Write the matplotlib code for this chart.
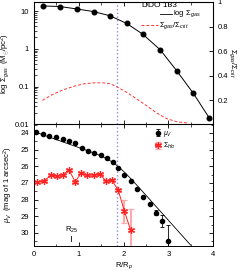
import numpy as np
import matplotlib
matplotlib.use("Agg")
import matplotlib.pyplot as plt
from matplotlib.ticker import MultipleLocator, LogLocator, NullFormatter

plt.rcParams['font.family'] = ['Liberation Sans', 'DejaVu Sans']
plt.rcParams['mathtext.fontset'] = 'custom'
plt.rcParams['mathtext.rm'] = 'Liberation Sans'
plt.rcParams['mathtext.it'] = 'Liberation Sans:italic'

# ==============================================
# = Data                =
# ==============================================
gas_r = [0.19, 0.58, 0.95, 1.33, 1.70, 2.07, 2.43, 2.82, 3.19, 3.56, 3.92]
gas_sigma = [13.7, 13.2, 11.4, 9.7, 7.5, 4.7, 2.44, 0.94, 0.26, 0.066, 0.0144]

crit_r = [0.19, 0.40, 0.65, 0.90, 1.10, 1.33, 1.55, 1.70, 1.85, 2.07, 2.30,
          2.52, 2.75, 2.97, 3.20, 3.44]
crit_ratio = [0.20, 0.245, 0.285, 0.315, 0.333, 0.342, 0.342, 0.335, 0.31,
              0.265, 0.21, 0.155, 0.095, 0.05, 0.025, 0.015]

mu_r = [0.045, 0.19, 0.34, 0.49, 0.64, 0.79, 0.92, 1.07, 1.21, 1.34, 1.49,
        1.62, 1.76, 1.88, 2.01, 2.16, 2.29, 2.43, 2.58, 2.73, 2.85, 3.00]
mu_v = [23.96, 24.06, 24.16, 24.26, 24.38, 24.46, 24.62, 24.88, 25.08, 25.18,
        25.32, 25.52, 25.72, 26.08, 26.52, 26.88, 27.36, 27.86, 28.26, 28.78,
        29.28, 30.48]
mu_err = [0, 0, 0, 0, 0, 0, 0, 0, 0, 0, 0, 0, 0, 0, 0, 0, 0, 0, 0, 0.15, 0.35, 0.95]

ha_r = [0.07, 0.22, 0.37, 0.51, 0.64, 0.78, 0.92, 1.05, 1.19, 1.34, 1.47,
        1.61, 1.74, 1.88, 2.02, 2.16]
ha_mu = [26.94, 26.90, 26.54, 26.58, 26.50, 26.22, 26.92, 26.42, 26.54, 26.52,
         26.48, 26.88, 26.84, 27.42, 28.70, 29.84]
ha_err = [0, 0, 0, 0, 0, 0, 0, 0, 0, 0, 0, 0, 0, 0, 0.7, 1.25]

# broken exponential disk fit (inner / outer slope, break radius)
fit_mu0 = 23.92
fit_inner = 0.95
fit_outer = 3.0
fit_rbreak = 1.8
fit_rmax = 3.5

r_25 = 0.85
r_break_line = 1.85


def main():
    fig = plt.figure(figsize=(2.42, 2.72), dpi=100)
    ax1 = fig.add_axes([0.1405, 0.543, 0.740, 0.450])
    ax2 = fig.add_axes([0.1405, 0.0956, 0.740, 0.4474])
    fs = 5.5
    blue = '#8c8ce0'

    # ==============================================
    # = Top panel: gas surface density             =
    # ==============================================
    ax1.plot(gas_r, gas_sigma, '-', color='black', lw=0.7)
    ax1.plot(gas_r, gas_sigma, 'o', color='black', ms=3.3)
    ax1.axvline(r_break_line, color=blue, ls=':', lw=1.0)
    ax1.set_yscale('log')
    ax1.set_ylim(0.01, 17.5)
    ax1.set_xlim(0, 4)
    ax1.set_yticks([0.01, 0.1, 1, 10])
    ax1.set_yticklabels(['0.01', '0.1', '1', '10'])
    ax1.yaxis.set_minor_locator(LogLocator(base=10, subs=np.arange(2, 10)))
    ax1.yaxis.set_minor_formatter(NullFormatter())
    ax1.xaxis.set_major_locator(MultipleLocator(1))
    ax1.xaxis.set_minor_locator(MultipleLocator(0.5))
    ax1.tick_params(labelbottom=False, labelsize=fs, direction='in', top=True,
                    length=3, width=0.6)
    ax1.tick_params(which='minor', direction='in', top=True, length=1.8, width=0.5)
    ax1.set_ylabel(r'log $\Sigma_{gas}$  (M$_{\odot}$/pc$^2$)', fontsize=fs, labelpad=2)

    ax1r = ax1.twinx()
    ax1r.plot(crit_r, crit_ratio, '--', color='#ff3333', lw=0.7, dashes=(3, 2))
    ax1r.set_ylim(0.005, 1.0)
    ax1r.set_yticks([0.2, 0.4, 0.6, 0.8, 1.0])
    ax1r.set_yticklabels(['0.2', '0.4', '0.6', '0.8', '1'])
    ax1r.tick_params(labelsize=fs, direction='in', length=3, width=0.6)
    ax1r.set_ylabel(r'$\Sigma_{gas}/\Sigma_{crit}$', fontsize=fs, rotation=270, labelpad=7)

    ax1.text(0.605, 0.955, 'DDO 133', transform=ax1.transAxes, fontsize=fs + 0.5)
    ax1.plot([0.705, 0.77], [0.9, 0.9], '-', color='black', lw=0.6, transform=ax1.transAxes)
    ax1.text(0.775, 0.895, r'log $\Sigma_{gas}$', transform=ax1.transAxes, fontsize=fs)
    ax1.plot([0.60, 0.69], [0.81, 0.81], '--', color='#ff3333', lw=0.7, dashes=(3, 2),
             transform=ax1.transAxes)
    ax1.text(0.70, 0.80, r'$\Sigma_{gas}/\Sigma_{crit}$', transform=ax1.transAxes, fontsize=fs)

    for sp in ax1.spines.values():
        sp.set_linewidth(0.7)

    # ==============================================
    # = Bottom panel: surface brightness           =
    # ==============================================
    rr = np.linspace(0, fit_rmax, 200)
    w = 0.15
    fit = fit_mu0 + fit_inner * rr + (fit_outer - fit_inner) * w * np.log1p(np.exp((rr - fit_rbreak) / w))
    ax2.plot(rr, fit, '-', color='black', lw=0.6)
    ax2.errorbar(mu_r, mu_v, yerr=mu_err, fmt='o', color='black', ms=3,
                 elinewidth=0.6, capsize=1.5, capthick=0.6, label=r'$\mu_V$')
    ax2.errorbar(ha_r, ha_mu, yerr=ha_err, fmt='-', color='#ff2222', ecolor='#ffaaaa',
                 marker=(6, 2, 0), ms=5, mew=0.9, lw=0.7, elinewidth=1.5,
                 capsize=2, capthick=0.6, label=r'$\Sigma_{H\alpha}$')
    ax2.axvline(r_break_line, color=blue, ls=':', lw=1.0)

    ax2.text(r_25, 29.95, r'R$_{25}$', fontsize=fs, ha='center')
    ax2.plot([r_25 - 0.03, r_25 - 0.03], [30.2, 30.5], '-', color='black', lw=0.6)

    ax2.set_xlim(0, 4)
    ax2.set_ylim(30.78, 23.48)
    ax2.xaxis.set_major_locator(MultipleLocator(1))
    ax2.xaxis.set_minor_locator(MultipleLocator(0.5))
    ax2.yaxis.set_major_locator(MultipleLocator(1))
    ax2.yaxis.set_minor_locator(MultipleLocator(0.5))
    ax2.tick_params(labelsize=fs, direction='in', top=True, right=True,
                    length=3, width=0.6)
    ax2.tick_params(which='minor', direction='in', top=True, right=True,
                    length=1.8, width=0.5)
    ax2.set_xlabel(r'R/R$_p$', fontsize=fs, labelpad=2)
    ax2.set_ylabel(r'$\mu_V$  (mag of 1 arcsec$^2$)', fontsize=fs, labelpad=4)
    ax2.legend(loc='upper right', bbox_to_anchor=(0.82, 1.0), fontsize=fs - 0.5,
               frameon=False, handlelength=0.8, handletextpad=0.4,
               borderpad=0.2, labelspacing=0.2)
    for sp in ax2.spines.values():
        sp.set_linewidth(0.7)

    fig.savefig("out.png", dpi=100)


if __name__ == "__main__":
    main()
